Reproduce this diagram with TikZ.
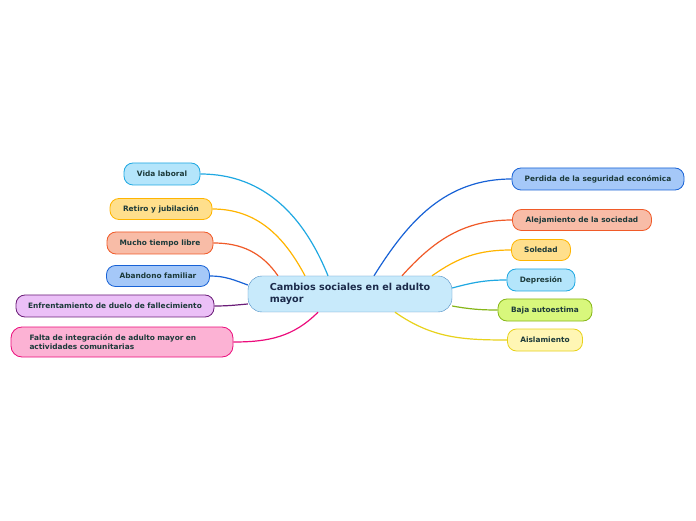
\documentclass[tikz,border=0pt]{standalone}
\usepackage{fontspec}
\setmainfont{DejaVu Sans}
\usepackage{tikz}
\usetikzlibrary{shapes}
\usetikzlibrary{arrows}
\definecolor{cyanline}{HTML}{1FA8E2}
\definecolor{cyanfill}{HTML}{B4E5FB}
\definecolor{amberline}{HTML}{FFB500}
\definecolor{amberfill}{HTML}{FFDF8C}
\definecolor{redline}{HTML}{F05A28}
\definecolor{redfill}{HTML}{F8BCA7}
\definecolor{blueline}{HTML}{1862D6}
\definecolor{bluefill}{HTML}{A5C8F8}
\definecolor{purpleline}{HTML}{6B1D78}
\definecolor{purplefill}{HTML}{EBC0F7}
\definecolor{pinkline}{HTML}{EC0C7C}
\definecolor{pinkfill}{HTML}{FCB2D4}
\definecolor{limeline}{HTML}{86B618}
\definecolor{limefill}{HTML}{D8F77C}
\definecolor{yellowline}{HTML}{E8D21C}
\definecolor{yellowfill}{HTML}{FFF6B4}
\definecolor{mainline}{HTML}{4A8CC4}
\definecolor{mainfill}{HTML}{C8EAFB}
\definecolor{textdark}{HTML}{1C3A3A}
\definecolor{maintext}{HTML}{1B2A4A}
\tikzset{
  topic/.style = {align=center, inner sep=0pt, text centered,
    font=\fontsize{7.4}{9}\selectfont\bfseries, text=textdark},
  main_node/.style = {topic, rectangle, rounded corners=14pt, draw=mainline,
    fill=mainfill, minimum width=204pt, minimum height=36pt,
    font=\fontsize{9.6}{12}\selectfont\bfseries, text=maintext, align=left},% nodo central
  sub_node/.style = {topic, rectangle, rounded corners=9pt, line width=0.8pt,
    minimum height=22pt},% subtema
  cyan_node/.style = {sub_node, draw=cyanline, fill=cyanfill},
  amber_node/.style = {sub_node, draw=amberline, fill=amberfill},
  red_node/.style = {sub_node, draw=redline, fill=redfill},
  blue_node/.style = {sub_node, draw=blueline, fill=bluefill},
  purple_node/.style = {sub_node, draw=purpleline, fill=purplefill},
  pink_node/.style = {sub_node, draw=pinkline, fill=pinkfill},
  lime_node/.style = {sub_node, draw=limeline, fill=limefill},
  yellow_node/.style = {sub_node, draw=yellowline, fill=yellowfill},
  branch/.style = {line width=1.2pt}
}
\begin{document}
\begin{tikzpicture}[x=1pt, y=1pt]
  \useasboundingbox[fill=white] (0,0) rectangle (696,520);
  % nodo central
  \node [main_node] (c) at (350,226) {Cambios sociales en el adulto\\mayor};
  % izquierda
  \node [cyan_node, minimum width=76pt] (vida) at (162,346) {Vida laboral};
  \node [amber_node, minimum width=102pt, minimum height=21pt] (retiro) at (161,311) {Retiro y jubilación};
  \node [red_node, minimum width=106pt] (mucho) at (160,277) {Mucho tiempo libre};
  \node [blue_node, minimum width=103pt, minimum height=21pt] (abandono) at (158,244) {Abandono familiar};
  \node [purple_node, minimum width=198pt] (duelo) at (115,214) {Enfrentamiento de duelo de fallecimiento};
  \node [pink_node, minimum width=222pt, minimum height=30pt, text width=185pt,
    align=left, rounded corners=11pt] (falta) at (122,178)
    {Falta de integración de adulto mayor en\\actividades comunitarias};
  % derecha
  \node [blue_node, minimum width=172pt] (perdida) at (598,341) {Perdida de la seguridad económica};
  \node [red_node, minimum width=139pt, minimum height=21pt] (alejamiento) at (582,300) {Alejamiento de la sociedad};
  \node [amber_node, minimum width=59pt, minimum height=21pt] (soledad) at (541,270) {Soledad};
  \node [cyan_node, minimum width=68pt] (depresion) at (541,240) {Depresión};
  \node [lime_node, minimum width=94pt] (baja) at (545,210) {Baja autoestima};
  \node [yellow_node, minimum width=75pt] (aislamiento) at (545,180) {Aislamiento};
  % ramas
  \draw [branch, cyanline] ([xshift=-22pt]c.north) to[out=112, in=0] (vida.east);
  \draw [branch, amberline] ([xshift=-45pt]c.north) to[out=118, in=0] (retiro.east);
  \draw [branch, redline] ([xshift=-72pt]c.north) to[out=125, in=0] (mucho.east);
  \draw [branch, blueline] ([yshift=9pt]c.west) to[out=160, in=0] (abandono.east);
  \draw [branch, purpleline] ([yshift=-10pt]c.west) to[out=185, in=0] (duelo.east);
  \draw [branch, pinkline] ([xshift=-32pt]c.south) to[out=225, in=0] (falta.east);
  \draw [branch, blueline] ([xshift=24pt]c.north) to[out=58, in=180] (perdida.west);
  \draw [branch, redline] ([xshift=52pt]c.north) to[out=48, in=180] (alejamiento.west);
  \draw [branch, amberline] ([xshift=82pt]c.north) to[out=35, in=180] (soledad.west);
  \draw [branch, cyanline] ([yshift=6pt]c.east) to[out=15, in=180] (depresion.west);
  \draw [branch, limeline] ([yshift=-12pt]c.east) to[out=-10, in=180] (baja.west);
  \draw [branch, yellowline] ([xshift=45pt]c.south) to[out=-35, in=180] (aislamiento.west);
\end{tikzpicture}
\end{document}
